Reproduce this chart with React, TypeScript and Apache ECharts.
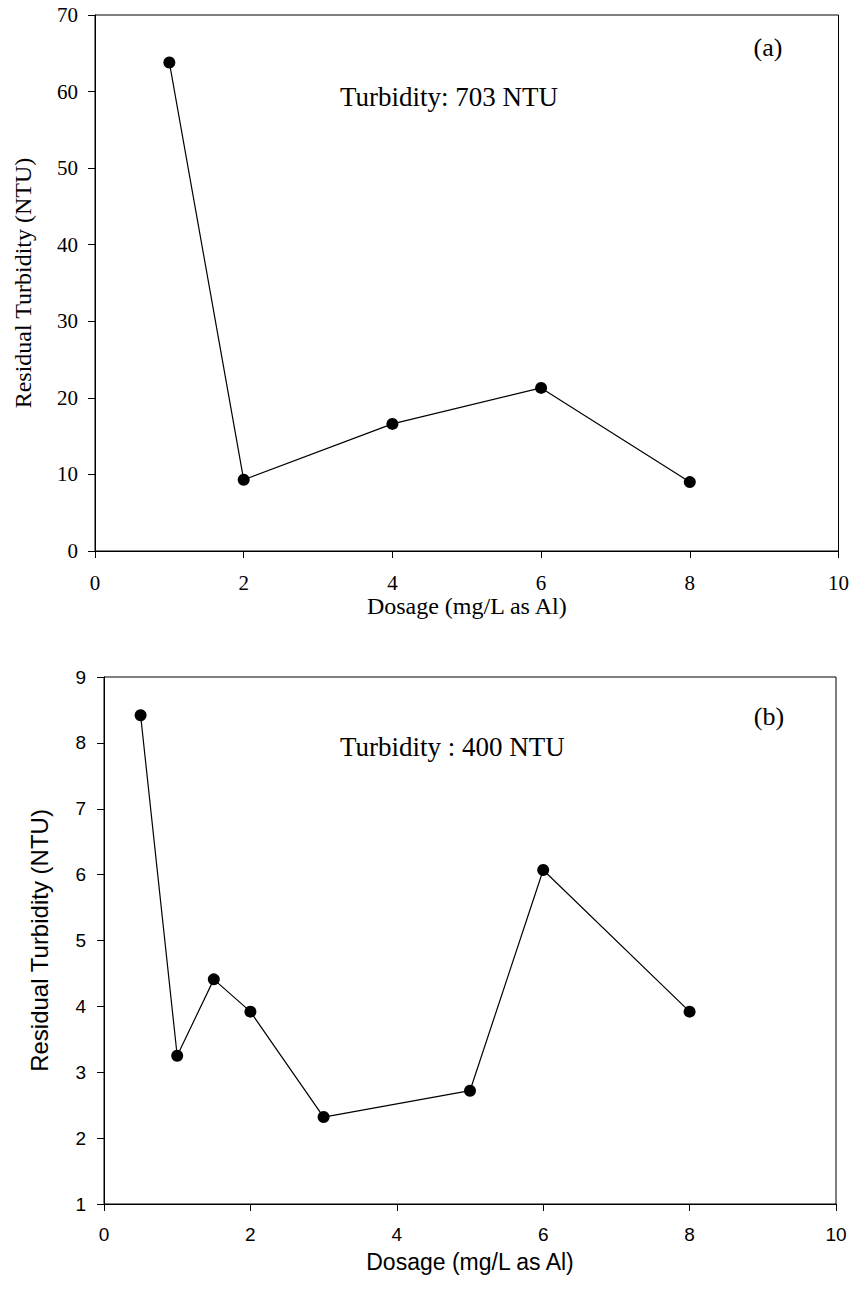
import React, { useEffect, useRef } from "react";
import * as echarts from "echarts";

const dosageA = [1, 2, 4, 6, 8];
const turbidityA = [63.8, 9.3, 16.6, 21.3, 9.0];
const dosageB = [0.5, 1, 1.5, 2, 3, 5, 6, 8];
const turbidityB = [8.42, 3.25, 4.41, 3.92, 2.32, 2.72, 6.07, 3.92];

const xTitle = "Dosage (mg/L as Al)";
const yTitle = "Residual Turbidity (NTU)";
const noteA = "Turbidity: 703 NTU";
const noteB = "Turbidity : 400 NTU";
const panelA = "(a)";
const panelB = "(b)";

const SERIF = "'Liberation Serif', 'Times New Roman', serif";
const SANS = "'Liberation Sans', Arial, sans-serif";

export default function App() {
  const ref = useRef<HTMLDivElement>(null);
  useEffect(() => {
    if (!ref.current) return;
    const chart = echarts.init(ref.current, undefined, { renderer: "svg" });
    const axisLine = { show: true, lineStyle: { color: "#000", width: 1 } };
    const axisTick = { show: true, inside: false, length: 7, lineStyle: { color: "#000", width: 1 } };
    const pts = (xs: number[], ys: number[]) => xs.map((x, i) => [x, ys[i]]);
    chart.setOption({
      animation: false,
      backgroundColor: "#fff",
      grid: [
        { left: 95, top: 15, width: 744, height: 536, show: true, borderColor: "#000", borderWidth: 1, backgroundColor: "transparent" },
        { left: 104, top: 677, width: 732, height: 527, show: true, borderColor: "#000", borderWidth: 1, backgroundColor: "transparent" },
      ],
      xAxis: [
        {
          gridIndex: 0, type: "value", min: 0, max: 10, interval: 2,
          axisLine, axisTick, splitLine: { show: false },
          axisLabel: { color: "#000", fontFamily: SERIF, fontSize: 21, margin: 21 },
          name: xTitle, nameLocation: "middle", nameGap: 42,
          nameTextStyle: { color: "#000", fontFamily: SERIF, fontSize: 24 },
        },
        {
          gridIndex: 1, type: "value", min: 0, max: 10, interval: 2,
          axisLine, axisTick, splitLine: { show: false },
          axisLabel: { color: "#000", fontFamily: SANS, fontSize: 19, margin: 21 },
          name: xTitle, nameLocation: "middle", nameGap: 46,
          nameTextStyle: { color: "#000", fontFamily: SANS, fontSize: 23 },
        },
      ],
      yAxis: [
        {
          gridIndex: 0, type: "value", min: 0, max: 70, interval: 10,
          axisLine, axisTick, splitLine: { show: false },
          axisLabel: { color: "#000", fontFamily: SERIF, fontSize: 21, margin: 17 },
          name: yTitle, nameLocation: "middle", nameGap: 60,
          nameTextStyle: { color: "#000", fontFamily: SERIF, fontSize: 24 },
        },
        {
          gridIndex: 1, type: "value", min: 1, max: 9, interval: 1,
          axisLine, axisTick, splitLine: { show: false },
          axisLabel: { color: "#000", fontFamily: SANS, fontSize: 19, margin: 18 },
          name: yTitle, nameLocation: "middle", nameGap: 53,
          nameTextStyle: { color: "#000", fontFamily: SANS, fontSize: 24 },
        },
      ],
      series: [
        {
          type: "line", xAxisIndex: 0, yAxisIndex: 0, data: pts(dosageA, turbidityA),
          symbol: "circle", symbolSize: 12, itemStyle: { color: "#000" },
          lineStyle: { color: "#000", width: 1.2 },
        },
        {
          type: "line", xAxisIndex: 1, yAxisIndex: 1, data: pts(dosageB, turbidityB),
          symbol: "circle", symbolSize: 12, itemStyle: { color: "#000" },
          lineStyle: { color: "#000", width: 1.2 },
        },
      ],
      graphic: [
        { type: "text", x: 340, y: 97, style: { text: noteA, fill: "#000", font: `27px ${SERIF}`, textAlign: "left", textVerticalAlign: "middle" } },
        { type: "text", x: 768, y: 47, style: { text: panelA, fill: "#000", font: `26px ${SERIF}`, textAlign: "center", textVerticalAlign: "middle" } },
        { type: "text", x: 340, y: 747, style: { text: noteB, fill: "#000", font: `27px ${SERIF}`, textAlign: "left", textVerticalAlign: "middle" } },
        { type: "text", x: 769, y: 716, style: { text: panelB, fill: "#000", font: `26px ${SERIF}`, textAlign: "center", textVerticalAlign: "middle" } },
      ],
    });
    return () => chart.dispose();
  }, []);
  return <div ref={ref} style={{ position: "absolute", left: 0, top: 0, width: 852, height: 1292 }} />;
}
